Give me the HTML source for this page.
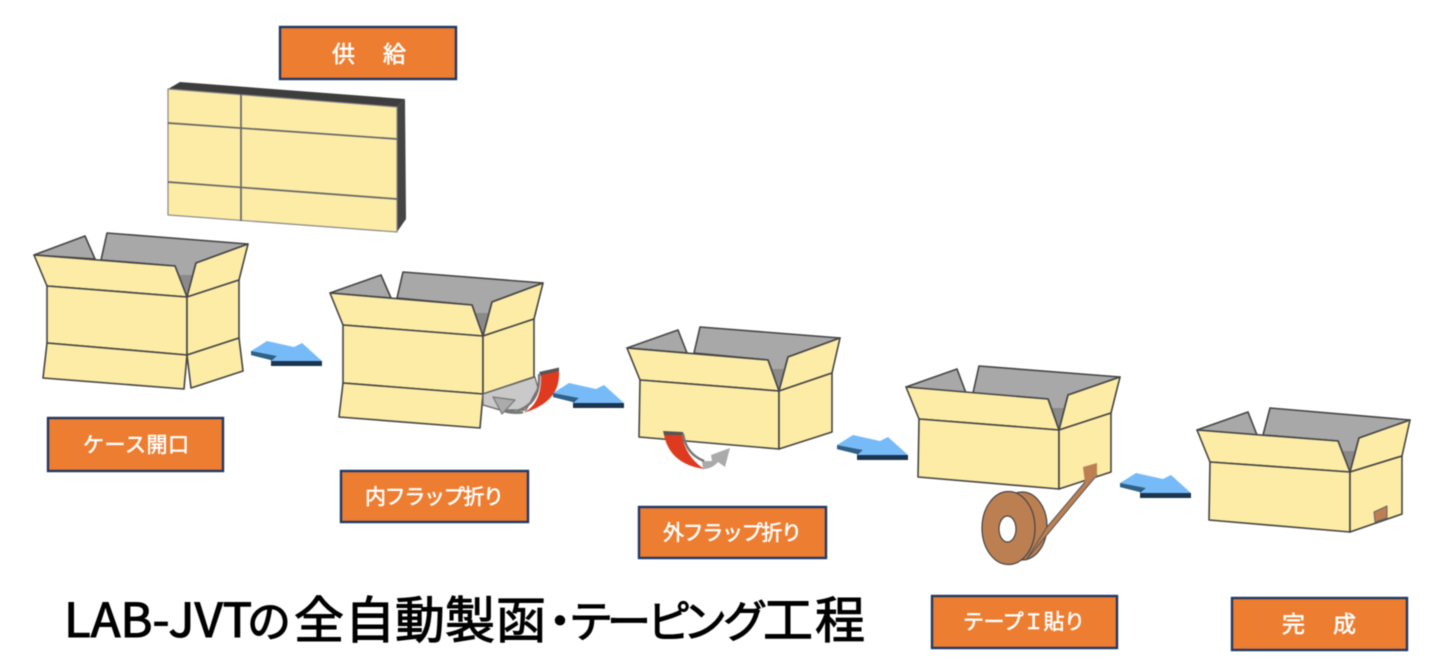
<!DOCTYPE html>
<html lang="ja"><head><meta charset="utf-8"><title>LAB-JVT</title>
<style>
html,body{margin:0;padding:0;background:#fff;width:1436px;height:667px;overflow:hidden}
svg{display:block;filter:blur(.45px)}
.b polygon,.b path{stroke:#444;stroke-width:1.6;stroke-linejoin:round}
.y{fill:#fdeca6}.g{fill:#a8a8a8}.d{fill:#8a8a8a}
.lb{fill:#ed7d31;stroke:#1f3864;stroke-width:2.4}
.t{font-family:"Noto Sans CJK JP","Liberation Sans",sans-serif;font-weight:400;fill:#fff;stroke:#fff;stroke-width:.55;font-size:21px}
.h{font-family:"Noto Sans CJK JP","Liberation Sans",sans-serif;font-weight:400;fill:#000;stroke:#000;stroke-width:1.1}
</style></head><body>
<svg width="1436" height="667" viewBox="0 0 1436 667" xmlns="http://www.w3.org/2000/svg">
<defs>
<g id="ar">
<polygon points="0,0 0,4 20,9 20,15 71,15 71,10 20,10 26,5" fill="#1b3550"/>
<polygon points="0,0 0,4 20,9 26,5" fill="#2f6088"/>
<polygon points="0,0 16,-10 43,-4 51,-8 71,10 20,10 26,5" fill="#76bbf7"/>
</g>
</defs>
<rect width="1436" height="667" fill="#fff"/>

<!-- labels -->
<rect class="lb" x="280" y="27" width="176" height="52"/>
<text class="t" x="332" y="62" textLength="74" style="font-size:23px">供　給</text>
<rect class="lb" x="48" y="418" width="175" height="53"/>
<text class="t" x="83" y="452" textLength="106">ケース開口</text>
<rect class="lb" x="341" y="471" width="187" height="51"/>
<text class="t" x="365" y="504" textLength="139">内フラップ折り</text>
<rect class="lb" x="639" y="507" width="187" height="51"/>
<text class="t" x="663" y="540" textLength="139">外フラップ折り</text>
<rect class="lb" x="932" y="596" width="185" height="52"/>
<text class="t" x="963" y="629" textLength="122">テープＩ貼り</text>
<rect class="lb" x="1232" y="598" width="175" height="52"/>
<text class="t" x="1282" y="632" textLength="74" style="font-size:23px">完　成</text>

<!-- flat stack -->
<polygon points="168,89 180,82 405,99 397,107" fill="#3d3d3d"/>
<polygon points="397,107 405,99 406,219 397,232" fill="#444"/>
<polygon class="y" points="168,89 397,107 397,232 168,215" stroke="#888" stroke-width="1.2"/>
<path fill="none" stroke="#666" stroke-width="1.7" d="M241,94V221M168,123L397,139M168,182L397,199"/>

<!-- box 1 -->
<g class="b">
<polygon class="g" points="34,255 85,236 95,259"/>
<polygon class="g" points="101,260 107,233 248,244 196,263 187,297 175,266"/>
<polygon class="d" style="stroke:none" points="178.500,275 193,275 187,297"/>
<polygon class="y" points="34,255 175,266 187,297 47,286"/>
<polygon class="y" points="196,263 248,244 239,280 187,297"/>
<polygon class="y" points="47,286 187,297 187,355 47,343"/>
<polygon class="y" points="187,297 239,280 239,338 187,355"/>
<polygon class="y" points="47,343 187,355 184,389 43,378"/>
<polygon class="y" points="187,355 239,338 243,371 191,388"/>
</g>

<!-- box 2 -->
<g class="b">
<polygon class="g" points="330,293 381,275 391,298"/>
<polygon class="g" points="397,298 403,272 543,283 492,302 483,336 472,305"/>
<polygon class="d" style="stroke:none" points="475,313 489,313 483,336"/>
<polygon class="y" points="330,293 472,305 483,336 343,325"/>
<polygon class="y" points="492,302 543,283 534,319 483,336"/>
<polygon class="y" points="343,325 483,336 483,394 343,383"/>
<polygon class="y" points="483,336 534,319 534,377 483,394"/>
<polygon class="y" points="343,383 483,394 480,428 339,417"/>
<polygon fill="#c9c9c9" style="stroke:#666;stroke-width:1.2" points="483,394 535,377 538,388 526,410 500,410 483,405"/>
</g>
<path d="M505,408 Q514,412 523,411 L523,413.500 Q512,415 503,412Z" fill="#777"/>
<polygon points="493,397 515,400 502,414" fill="#ababab" stroke="#777" stroke-width="1.2" stroke-linejoin="round"/>
<path d="M539,372 L559,367.500 L559,372 L541,376.500Z" fill="#555"/>
<path d="M539,374 Q541,403 517,411" fill="none" stroke="#777" stroke-width="2.5"/>
<path d="M541,375 L559,371 Q561,402 523,413 Q542,404 541,375Z" fill="#de3a1f"/>

<!-- box 3 -->
<g class="b">
<polygon class="g" points="627,348 678,330 687,353"/>
<polygon class="g" points="694,353 700,327 840,338 788,357 779,391 768,360"/>
<polygon class="d" style="stroke:none" points="771,369 785,369 779,391"/>
<polygon class="y" points="627,348 768,360 779,391 640,380"/>
<polygon class="y" points="788,357 840,338 832,373 779,391"/>
<polygon class="y" points="640,380 779,391 779,449 639,437"/>
<polygon class="y" points="779,391 832,373 832,432 779,449"/>
</g>
<path d="M663,431 L683,432 L684,436 L664,435Z" fill="#555"/>
<path d="M702,461 L712,461 L711,455 L730,448 L725,467 L718,462 Q712,469 703,469Z" fill="#aaa"/>
<path d="M683,434 Q686,454 704,461" fill="none" stroke="#777" stroke-width="2.5"/>
<path d="M664,435 L682,435 Q685,456 704,469 Q670,464 664,435Z" fill="#de3a1f"/>

<!-- box 4 -->
<g class="b">
<polygon class="g" points="906,387 957,369 966,393"/>
<polygon class="g" points="973,393 979,366 1120,377 1068,395 1059,430 1048,399"/>
<polygon class="d" style="stroke:none" points="1051,408 1065,408 1059,430"/>
<polygon class="y" points="906,387 1048,399 1059,430 919,419"/>
<polygon class="y" points="1068,395 1120,377 1111,413 1059,430"/>
<polygon class="y" points="919,419 1059,430 1059,489 918,477"/>
<polygon class="y" points="1059,430 1111,413 1111,472 1059,489"/>
<ellipse cx="1022" cy="526" rx="25" ry="34" fill="#bc7f52" stroke="#444" stroke-width="1.2"/>
<polygon fill="#bc7f52" style="stroke:#555;stroke-width:1" points="1085,482 1097,475 1026,560 1047,527"/>
<polygon fill="#bc7f52" style="stroke:none" points="1083,467 1097,463 1097,476 1085,483"/>
<ellipse cx="1008.500" cy="528" rx="26.500" ry="36.500" fill="#bc7f52" stroke="#444" stroke-width="1.2"/>
<ellipse cx="1007.500" cy="529" rx="8.500" ry="13" fill="#fff" stroke="#444" stroke-width="1.2"/>
</g>

<!-- box 5 -->
<g class="b">
<polygon class="g" points="1197,430 1248,412 1257,435"/>
<polygon class="g" points="1263,435 1270,408 1410,420 1359,438 1350,472 1338,441"/>
<polygon class="d" style="stroke:none" points="1342,451 1356,451 1350,472"/>
<polygon class="y" points="1197,430 1338,441 1350,472 1210,462"/>
<polygon class="y" points="1359,438 1410,420 1402,456 1350,472"/>
<polygon class="y" points="1210,462 1350,472 1350,532 1209,520"/>
<polygon class="y" points="1350,472 1402,456 1402,514 1350,532"/>
<polygon fill="#bc7f52" style="stroke:#666;stroke-width:1" points="1374,512 1387,506 1387,518 1375,522"/>
</g>

<!-- arrows -->
<use href="#ar" x="251" y="351"/>
<use href="#ar" x="553" y="393"/>
<use href="#ar" x="837" y="445"/>
<use href="#ar" x="1120" y="483"/>

<!-- title -->
<text class="h" x="64" y="637" font-size="47" textLength="188" lengthAdjust="spacingAndGlyphs">LAB-JVT</text>
<text class="h" y="637" font-size="44" x="247">の</text>
<text class="h" y="638" font-size="50" x="294 345 395 445 496">全自動製函</text>
<text class="h" y="637" font-size="44" x="538">・</text>
<text class="h" y="637" font-size="44" x="569 607 647 683 723">テーピング</text>
<text class="h" y="638" font-size="50" x="763 815">工程</text>
</svg>
</body></html>
